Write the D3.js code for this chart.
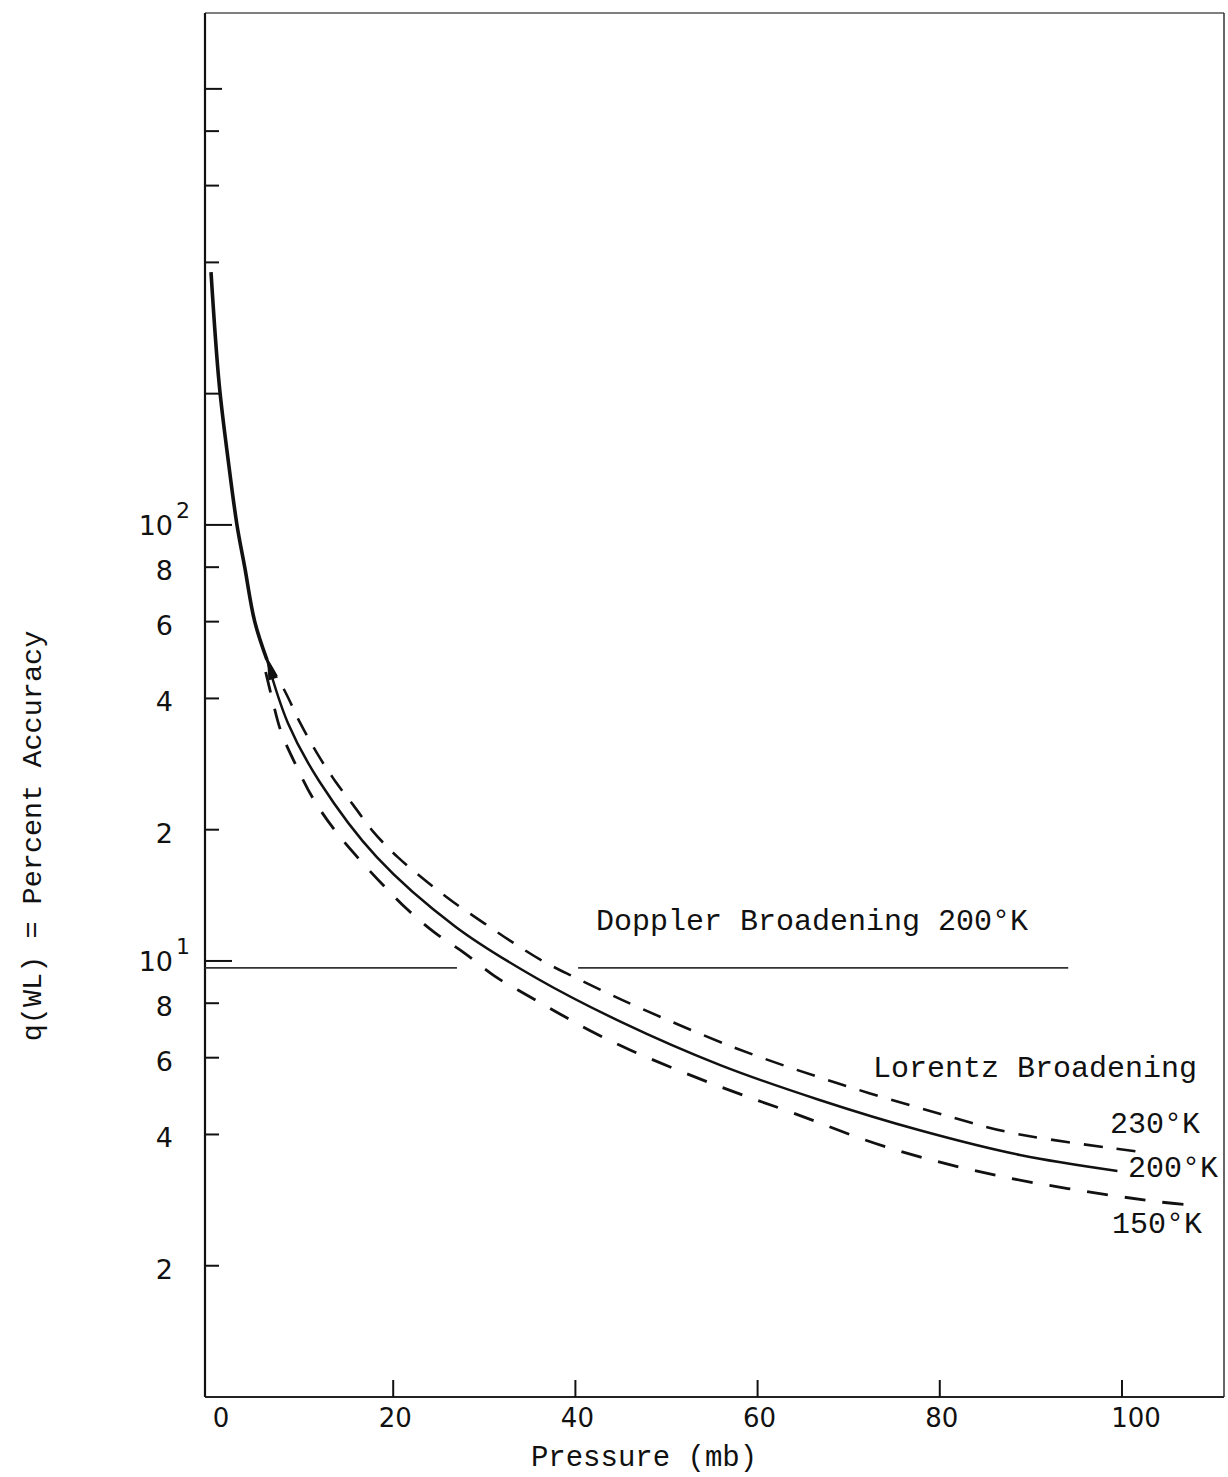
<!DOCTYPE html>
<html>
<head>
<meta charset="utf-8">
<script src="https://cdn.jsdelivr.net/npm/d3@7"></script>
<style>
  body { margin: 0; background: #fff; }
  text { fill: #111; }
</style>
</head>
<body>
<svg id="chart"></svg>
<script>
const width = 1228
const height = 1477

// [pressure (mb), q(WL) percent]
const lorentz200 = [[0, 380], [0.9, 210], [1.9, 140], [2.85, 100], [3.7, 80], [4.8, 60], [6.15, 49],
  [8.45, 35.1], [11.9, 25.8], [18.2, 17.3], [26.8, 12.0], [35.7, 9.14], [45, 7.25],
  [55.9, 5.77], [66.8, 4.80], [77.8, 4.09], [88.8, 3.59], [99.5, 3.30]]
const lorentz230 = [[6.15, 49], [8.1, 41.6], [9.8, 35.1], [11.7, 29.8], [13.6, 25.9], [15.6, 22.8],
  [17.8, 19.8], [20.5, 17.3], [23.7, 15.2], [26.7, 13.6], [30.0, 12.2], [33.2, 11.0],
  [36.4, 10.0], [39.8, 9.2], [43.2, 8.5], [46.5, 7.9], [57.7, 6.3], [68.7, 5.25],
  [79.7, 4.48], [88.0, 4.03], [102, 3.65]]
const lorentz150 = [[6.0, 46], [6.7, 40], [7.7, 33.5], [9.4, 27.9], [11.3, 23.4], [13.7, 19.8],
  [16.5, 16.9], [19.2, 14.7], [21.6, 13.1], [24.6, 11.6], [27.9, 10.4], [31.1, 9.24],
  [34.8, 8.32], [38.3, 7.56], [41.9, 6.87], [46.0, 6.25], [54.8, 5.25], [63.9, 4.48],
  [74.2, 3.74], [86.9, 3.20], [104.2, 2.80], [108.6, 2.75]]
const dopplerQ = 9.64
const dopplerSpans = [[-0.65, 27.0], [40.3, 94.1]]

const xTicks = [0, 20, 40, 60, 80, 100]
const yMajor = [10, 100, 1000]
const yMinor = [2, 4, 6, 8, 20, 40, 60, 80, 200, 400, 600, 800]
const yLabels = [2, 4, 6, 8, 20, 40, 60, 80]
const yDecades = [[10, '1'], [100, '2']]

const mono = '"Liberation Mono", "DejaVu Sans Mono", monospace'
const sans = '"DejaVu Sans", sans-serif'

const svg = d3.select('#chart')
  .attr('width', width)
  .attr('height', height)
  .style('background', '#fff')

const x = d3.scaleLinear().domain([-0.66, 111.2]).range([205, 1224])
const y = d3.scaleLog().domain([1, Math.pow(10, 3.174)]).range([1397, 13])

// frame
svg.append('line').attr('x1', 205).attr('x2', 1224).attr('y1', 13).attr('y2', 13)
  .attr('stroke', '#555').attr('stroke-width', 1.5)
svg.append('line').attr('x1', 1224).attr('x2', 1224).attr('y1', 13).attr('y2', 1397)
  .attr('stroke', '#333').attr('stroke-width', 1.5)
svg.append('line').attr('x1', 205).attr('x2', 205).attr('y1', 13).attr('y2', 1397)
  .attr('stroke', '#111').attr('stroke-width', 2.2)
svg.append('line').attr('x1', 205).attr('x2', 1224).attr('y1', 1397).attr('y2', 1397)
  .attr('stroke', '#222').attr('stroke-width', 2)

// x ticks (inside, pointing up) and labels
svg.selectAll('.xtick')
  .data(xTicks.filter(d => d > 0))
  .join('line')
  .attr('class', 'xtick')
  .attr('x1', d => x(d)).attr('x2', d => x(d))
  .attr('y1', 1397).attr('y2', 1380)
  .attr('stroke', '#111').attr('stroke-width', 2)

svg.selectAll('.xlab')
  .data(xTicks)
  .join('text')
  .attr('class', 'xlab')
  .attr('x', d => x(d) + (d === 0 ? 10 : d === 100 ? 14 : 2))
  .attr('y', 1427)
  .attr('text-anchor', 'middle')
  .style('font-family', sans)
  .style('font-size', '26px')
  .text(d => d)

// y ticks
svg.selectAll('.ymajor')
  .data(yMajor)
  .join('line')
  .attr('class', 'ymajor')
  .attr('x1', 205).attr('x2', d => d === 1000 ? 222 : 232)
  .attr('y1', d => y(d)).attr('y2', d => y(d))
  .attr('stroke', '#111').attr('stroke-width', 2)

svg.selectAll('.yminor')
  .data(yMinor)
  .join('line')
  .attr('class', 'yminor')
  .attr('x1', 205).attr('x2', 219)
  .attr('y1', d => y(d)).attr('y2', d => y(d))
  .attr('stroke', '#111').attr('stroke-width', 2)

svg.selectAll('.ylab')
  .data(yLabels)
  .join('text')
  .attr('class', 'ylab')
  .attr('x', 173)
  .attr('y', d => y(d) + 13)
  .attr('text-anchor', 'end')
  .style('font-family', sans)
  .style('font-size', '27px')
  .text(d => String(d)[0])

const dec = svg.selectAll('.ydec')
  .data(yDecades)
  .join('g')
  .attr('class', 'ydec')
dec.append('text')
  .attr('x', 173)
  .attr('y', d => y(d[0]) + 10)
  .attr('text-anchor', 'end')
  .style('font-family', sans)
  .style('font-size', '27px')
  .text('10')
dec.append('text')
  .attr('x', 176)
  .attr('y', d => y(d[0]) - 7)
  .style('font-family', sans)
  .style('font-size', '22px')
  .text(d => d[1])

// Doppler level
svg.selectAll('.doppler')
  .data(dopplerSpans)
  .join('line')
  .attr('class', 'doppler')
  .attr('x1', d => x(d[0])).attr('x2', d => x(d[1]))
  .attr('y1', y(dopplerQ)).attr('y2', y(dopplerQ))
  .attr('stroke', '#333').attr('stroke-width', 1.6)

// Lorentz curves
const line = d3.line()
  .x(d => x(d[0]))
  .y(d => y(d[1]))
  .curve(d3.curveCatmullRom.alpha(0.5))

svg.append('path')
  .attr('d', line(lorentz230))
  .attr('fill', 'none').attr('stroke', '#111')
  .attr('stroke-width', 2.6).attr('stroke-dasharray', '19,14')

svg.append('path')
  .attr('d', line(lorentz150))
  .attr('fill', 'none').attr('stroke', '#111')
  .attr('stroke-width', 2.8).attr('stroke-dasharray', '21,17')

svg.append('path')
  .attr('d', line(lorentz200.filter(d => d[0] <= 6.15)))
  .attr('fill', 'none').attr('stroke', '#111').attr('stroke-width', 3.6)

svg.append('path')
  .attr('d', line(lorentz200.filter(d => d[0] >= 6.15)))
  .attr('fill', 'none').attr('stroke', '#111').attr('stroke-width', 2.5)

// arrowhead at the branching point
const tip = [x(6.15), y(49)]
const back = [x(4.8), y(60)]
const len = Math.hypot(back[0] - tip[0], back[1] - tip[1])
const ux = (tip[0] - back[0]) / len, uy = (tip[1] - back[1]) / len
const base = [tip[0] + ux * 20, tip[1] + uy * 20]
svg.append('path')
  .attr('d', `M${tip[0]},${tip[1] - 2}L${base[0] - uy * 5},${base[1] + ux * 5}L${base[0] + uy * 5},${base[1] - ux * 5}Z`)
  .attr('fill', '#111')

// annotations
const note = (t, px, py) => svg.append('text')
  .attr('x', px).attr('y', py)
  .style('font-family', mono)
  .style('font-size', '30px')
  .text(t)

note('Doppler Broadening 200°K', 596, 930)
note('Lorentz Broadening', 873, 1077)
note('230°K', 1110, 1133)
note('200°K', 1128, 1177)
note('150°K', 1112, 1233)

svg.append('text')
  .attr('x', 644).attr('y', 1466)
  .attr('text-anchor', 'middle')
  .style('font-family', mono)
  .style('font-size', '29px')
  .text('Pressure (mb)')

svg.append('text')
  .attr('transform', 'translate(41,836) rotate(-90)')
  .attr('text-anchor', 'middle')
  .style('font-family', mono)
  .style('font-size', '28.5px')
  .text('q(WL) = Percent Accuracy')
</script>
</body>
</html>
